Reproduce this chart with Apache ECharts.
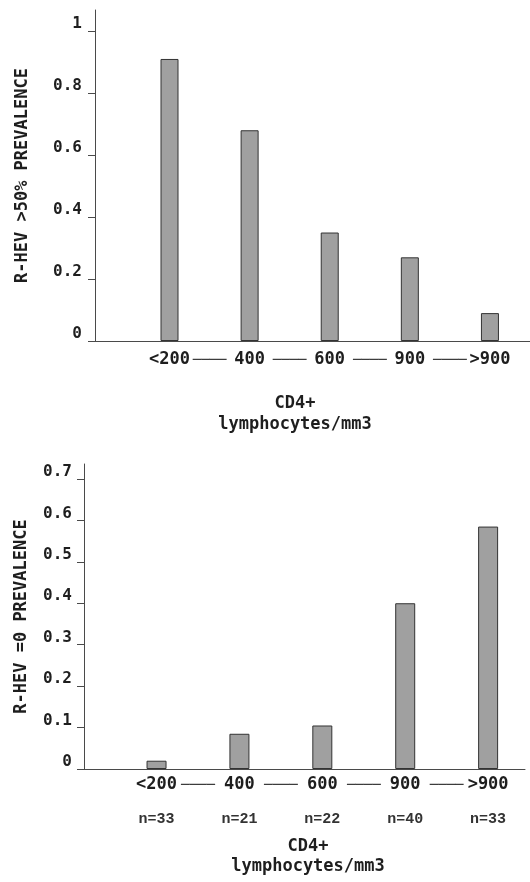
<!DOCTYPE html>
<html>
<head>
<meta charset="utf-8">
<script src="https://cdn.jsdelivr.net/npm/echarts@6/dist/echarts.min.js"></script>
<style>
  html, body { margin: 0; padding: 0; background: #fff; }
  #chart { width: 530px; height: 882px; }
</style>
</head>
<body>
<div id="chart"></div>
<script>
const categories = ['<200', '400', '600', '900', '>900']
const topValues = [0.91, 0.68, 0.35, 0.27, 0.09]
const bottomValues = [0.02, 0.085, 0.105, 0.4, 0.585]
const bottomCounts = ['n=33', 'n=21', 'n=22', 'n=40', 'n=33']
const topTicks = [0, 0.2, 0.4, 0.6, 0.8, 1]
const topTickLabels = ['0', '0.2', '0.4', '0.6', '0.8', '1']
const bottomTicks = [0, 0.1, 0.2, 0.3, 0.4, 0.5, 0.6, 0.7]
const bottomTickLabels = ['0', '0.1', '0.2', '0.3', '0.4', '0.5', '0.6', '0.7']

const FONT = "'DejaVu Sans Mono', monospace"
const INK = '#1e1e1e'
const AXIS = '#4a4a4a'

// category slots plus the dash slots between them
const labelSlots = categories.flatMap((c, i) => (i ? [i - 0.5, i] : [i]))

const tickLabel = (ticks, labels) => v => {
  const i = ticks.findIndex(t => Math.abs(t - v) < 1e-6)
  return i < 0 ? '' : labels[i]
}

const catLabel = withCount => v => {
  if (!Number.isInteger(v)) return '{d|────}'
  const name = `{a|${categories[v]}}`
  return withCount ? `${name}\n{n|${bottomCounts[v]}}` : name
}

const xAxisBase = (gridIndex, min, max, margin, withCount) => ({
  type: 'value',
  gridIndex,
  min,
  max,
  splitLine: { show: false },
  axisTick: { show: false },
  axisLine: { onZero: false, lineStyle: { color: AXIS, width: 1 } },
  axisLabel: {
    customValues: labelSlots,
    margin,
    formatter: catLabel(withCount),
    rich: {
      a: { fontFamily: FONT, fontWeight: 'bold', fontSize: 17, color: INK, lineHeight: 18 },
      d: { fontFamily: FONT, fontSize: 14, color: '#333', lineHeight: 18 },
      n: { fontFamily: "'Liberation Mono', monospace", fontWeight: 'bold', fontSize: 15, color: '#333', lineHeight: 50 }
    }
  },
  name: 'CD4+\nlymphocytes/mm3',
  nameLocation: 'middle',
  nameTextStyle: { fontFamily: FONT, fontWeight: 'bold', fontSize: 17, color: INK }
})

const yAxisBase = (gridIndex, max, ticks, labels, name, nameGap, margin) => ({
  type: 'value',
  gridIndex,
  min: 0,
  max,
  splitLine: { show: false },
  axisLine: { show: true, onZero: false, lineStyle: { color: AXIS, width: 1 } },
  axisTick: { show: true, length: 7, customValues: ticks, lineStyle: { color: AXIS } },
  axisLabel: {
    customValues: ticks,
    margin,
    formatter: tickLabel(ticks, labels),
    fontFamily: FONT,
    fontWeight: 'bold',
    fontSize: 16,
    color: INK,
    verticalAlign: 'bottom',
    lineHeight: 14
  },
  name,
  nameLocation: 'middle',
  nameGap,
  nameRotate: 90,
  nameTextStyle: { fontFamily: FONT, fontWeight: 'bold', fontSize: 17, color: INK }
})

const barStyle = { color: '#a0a0a0', borderColor: '#333', borderWidth: 1 }

const chart = echarts.init(document.getElementById('chart'))
const topX = xAxisBase(0, -0.93, 4.5, 10, false)
topX.nameGap = 52
topX.nameTextStyle.lineHeight = 21
topX.nameTextStyle.padding = [0, 35, 0, 0]
const bottomX = xAxisBase(1, -0.875, 4.445, 7, true)
bottomX.nameGap = 68
bottomX.nameTextStyle.lineHeight = 20
bottomX.nameTextStyle.padding = [0, 0, 0, 7]

chart.setOption({
  animation: false,
  grid: [
    { left: 95, top: 10, width: 435, height: 331 },
    { left: 84, top: 464, width: 441, height: 305 }
  ],
  xAxis: [topX, bottomX],
  yAxis: [
    yAxisBase(0, 1.068, topTicks, topTickLabels, 'R-HEV >50% PREVALENCE', 64, 13),
    yAxisBase(1, 0.736, bottomTicks, bottomTickLabels, 'R-HEV =0 PREVALENCE', 54, 12)
  ],
  series: [
    {
      type: 'bar',
      xAxisIndex: 0,
      yAxisIndex: 0,
      barWidth: 18,
      itemStyle: barStyle,
      data: categories.map((c, i) => [i, topValues[i]])
    },
    {
      type: 'bar',
      xAxisIndex: 1,
      yAxisIndex: 1,
      barWidth: 20,
      itemStyle: barStyle,
      data: categories.map((c, i) => [i, bottomValues[i]])
    }
  ]
})
</script>
</body>
</html>
